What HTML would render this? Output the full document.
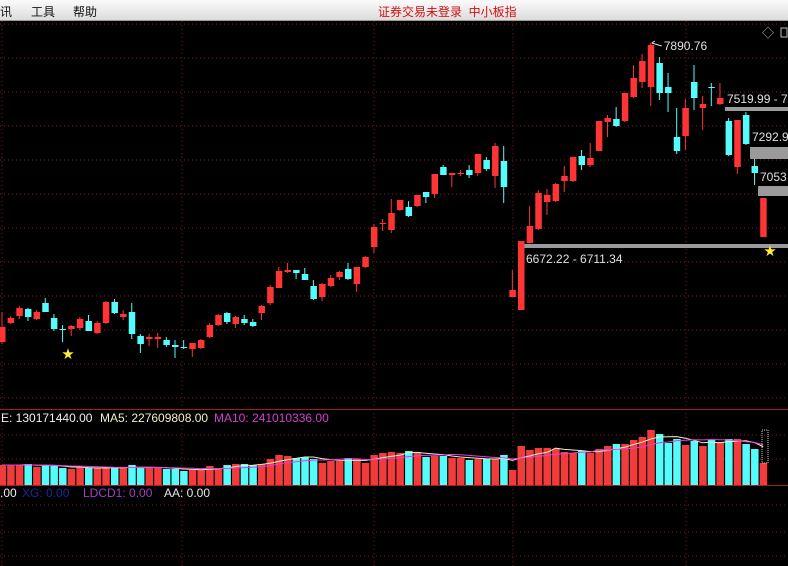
<!DOCTYPE html>
<html><head><meta charset="utf-8">
<style>
html,body{margin:0;padding:0;background:#000;width:788px;height:566px;overflow:hidden}
#menu{position:absolute;left:0;top:0;width:788px;height:20px;background:linear-gradient(#fbfbfb,#dcdcdc);border-bottom:1px solid #9a9a9a;font-family:"Liberation Sans","Noto Sans CJK SC",sans-serif;font-size:12px;color:#111}
#menu span{position:absolute;top:3px}
svg{position:absolute;left:0;top:0}
svg text{font-family:"Liberation Sans","Noto Sans CJK SC",sans-serif;font-size:12px}
</style></head><body>
<div id="menu">
<span style="left:0">讯</span>
<span style="left:31px">工具</span>
<span style="left:73px">帮助</span>
<span style="left:378px;color:#d01010">证券交易未登录&nbsp;&nbsp;中小板指</span>
</div>
<svg id="chart" width="788" height="566"></svg>
<script>
// [open, close, high, low]
const opens=[6108,6222,6264,6306,6246,6342,6252,6186,6186,6192,6234,6162,6222,6348,6258,6288,6144,6126,6126,6120,6090,6078,6066,6072,6138,6210,6282,6216,6246,6228,6282,6342,6432,6528,6540,6516,6444,6378,6444,6498,6546,6456,6558,6678,6816,6780,6900,6918,6924,7008,6996,7158,7110,7120,7140,7122,7200,7104,7194,6378,6300,6702,6786,6948,6954,7074,7074,7224,7170,7254,7428,7446,7434,7578,7668,7638,7782,7638,7338,7344,7668,7512,7638,7536,7434,7158,7470,7164,6738];
const closes=[6198,6252,6312,6258,6288,6288,6186,6183,6204,6246,6174,6222,6348,6282,6276,6156,6096,6138,6138,6090,6078,6076,6102,6120,6210,6270,6228,6258,6222,6204,6324,6438,6534,6540,6522,6480,6366,6456,6492,6528,6486,6558,6618,6798,6822,6882,6960,6864,6990,6978,7116,7110,7122,7122,7110,7236,7146,7284,7038,6420,6714,6804,7002,6990,7056,7104,7218,7170,7212,7434,7452,7404,7602,7692,7794,7890,7602,7602,7254,7512,7572,7536,7635,7572,7230,7440,7296,7122,6972];
const highs=[6288,6264,6324,6312,6300,6372,6276,6210,6210,6258,6270,6234,6354,6366,6300,6342,6156,6156,6162,6138,6120,6120,6102,6126,6222,6276,6288,6264,6270,6246,6330,6450,6558,6582,6540,6552,6480,6462,6510,6534,6582,6558,6624,6816,6846,6966,6960,6954,6990,7008,7116,7170,7122,7140,7170,7236,7218,7302,7284,6540,6714,6924,7020,7026,7062,7164,7218,7260,7302,7434,7470,7518,7602,7770,7836,7902,7818,7722,7512,7566,7770,7584,7662,7662,7452,7440,7488,7206,6972];
const lows=[6096,6216,6246,6234,6240,6288,6174,6108,6144,6180,6174,6156,6216,6276,6240,6126,6042,6084,6072,6078,6012,6066,6018,6066,6132,6204,6216,6192,6210,6198,6240,6330,6432,6522,6486,6480,6360,6354,6438,6480,6480,6408,6552,6642,6774,6762,6894,6858,6918,6942,6972,7110,7038,7104,7092,7104,7134,7032,6942,6378,6300,6702,6780,6870,6948,7008,7068,7140,7158,7254,7338,7398,7428,7572,7632,7524,7560,7488,7236,7260,7500,7380,7524,7530,7224,7116,7290,7050,6738];
// volume in millions
const volumes=[120,120,120,126,108,120,114,102,96,108,102,102,102,108,102,120,102,102,102,96,96,84,90,90,114,102,120,126,126,120,126,156,180,174,162,168,156,132,144,144,162,156,132,180,192,198,192,204,192,168,174,174,162,162,150,156,156,156,180,90,234,210,222,222,216,198,192,204,192,216,234,246,246,270,288,330,306,252,276,240,264,234,270,258,276,276,246,216,132];
const priceLevels=[6672.22,7519.99,7292.9,7053];

const NS='http://www.w3.org/2000/svg';
const svg=document.getElementById('chart');
function mk(tag,attrs,parent){const e=document.createElementNS(NS,tag);for(const k in attrs)e.setAttribute(k,attrs[k]);(parent||svg).appendChild(e);return e;}
const xAt=i=>2+8.65*i;
const yP=p=>(8160-p)/6;
const yV=v=>485-v/6;
const RED='#ff3535',CYAN='#54fcfc';

// grid
for(let k=0;k<12;k++){const y=24+34*k;const l=mk('line',{x1:0,x2:788,y1:y,y2:y,stroke:'#7a1c1c','stroke-dasharray':'1 3','stroke-width':1});
}
[2,182,374,513,686].forEach(x=>{const l=mk('line',{x1:x,x2:x,y1:21,y2:566,stroke:'#7a1c1c','stroke-dasharray':'1 3'});
});
[435,459,505,532,556].forEach(y=>{const l=mk('line',{x1:0,x2:788,y1:y,y2:y,stroke:'#7a1c1c','stroke-dasharray':'1 3'});
});
let s1=mk('line',{x1:0,x2:788,y1:409.5,y2:409.5,stroke:'#a02020'});

let s2=mk('line',{x1:0,x2:788,y1:485.5,y2:485.5,stroke:'#a02020'});


// support / resistance bands
const bands=[[524,244,4,'6672.22 - 6711.34',526,263],[725,107,4,'7519.99 - 7',727,103],[750,147,12,'7292.9',752,141],[758,186,10,'7053',760,181]];
bands.forEach((b,j)=>{const r=mk('rect',{x:b[0],y:b[1],width:788-b[0],height:b[2],fill:'#9a9a9a'});

const t=mk('text',{x:b[4],y:b[5],fill:'#e0e0e0'});t.textContent=b[3];
});

// candles
opens.forEach((o,i)=>{const c=closes[i],h=highs[i],lo=lows[i];const up=c>=o;const col=up?RED:CYAN;const x=xAt(i);
const g=mk('g',{});
mk('line',{x1:x,x2:x,y1:yP(h),y2:yP(lo),stroke:col,'stroke-width':1},g);
const top=yP(Math.max(o,c)),bh=Math.max(1,Math.abs(yP(o)-yP(c)));
mk('rect',{x:x-3,y:top,width:6.5,height:bh,fill:col},g);});

// high label
let hi=0;highs.forEach((h,i)=>{if(h>highs[hi])hi=i;});
const hl=mk('path',{d:`M${xAt(hi)+1} ${yP(highs[hi])} l3 -2 M${xAt(hi)+1} ${yP(highs[hi])} l10 3`,stroke:'#ddd',fill:'none'});

const ht=mk('text',{x:xAt(hi)+13,y:yP(highs[hi])+7,fill:'#e0e0e0'});ht.textContent='7890.76';


// stars
[[67,354],[769,251]].forEach(p=>{const s=mk('text',{x:p[0]-5,y:p[1]+4,fill:'#ffee33','font-size':'11'});s.textContent='★';
});
const dm=mk('text',{x:762,y:37,fill:'#bbb','font-size':'12'});dm.textContent='◇';

const bx=mk('rect',{x:781,y:28,width:6,height:9,fill:'none',stroke:'#bbb'});


// volume bars
volumes.forEach((v,i)=>{const up=closes[i]>=opens[i];const r=mk('rect',{x:xAt(i)-3.5,y:yV(v),width:7.5,height:485-yV(v),fill:up?'#f23c3c':CYAN});
});
function ma(n){const pts=[];for(let i=0;i<volumes.length;i++){const a=volumes.slice(Math.max(0,i-n+1),i+1);pts.push(xAt(i)+','+yV(a.reduce((s,v)=>s+v,0)/a.length));}return pts.join(' ');}
const m5=mk('polyline',{points:ma(5),fill:'none',stroke:'#f0f0c0','stroke-width':1});

const m10=mk('polyline',{points:ma(10),fill:'none',stroke:'#e040e0','stroke-width':1});

const sel=mk('rect',{x:762,y:430,width:6,height:33,fill:'none',stroke:'#ccc','stroke-dasharray':'1 1'});


// headers
function hdr(x,y,col,txt,name){const t=mk('text',{x:x,y:y,fill:col});t.textContent=txt;}
hdr(1,422,'#f0f0f0','E: 130171440.00','volume-value');
hdr(100,422,'#f0f0c8','MA5: 227609808.00','volume-ma5-value');
hdr(214,422,'#d040d0','MA10: 241010336.00','volume-ma10-value');
hdr(0,497,'#f0f0f0','.00','indicator-value');
hdr(22,497,'#1a2aa0','XG: 0.00','xg-value');
hdr(83,497,'#a040c0','LDCD1: 0.00','ldcd1-value');
hdr(164,497,'#e8e8e8','AA: 0.00','aa-value');
</script>
</body></html>
